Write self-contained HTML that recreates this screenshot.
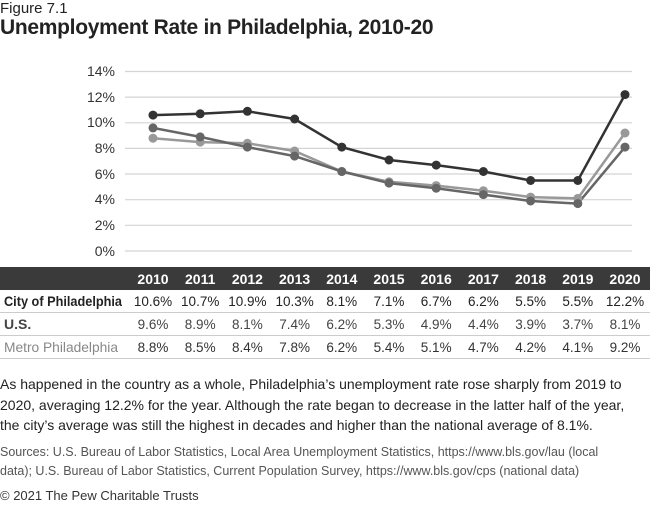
<!DOCTYPE html>
<html><head><style>
body{margin:0;width:650px;height:508px;background:#fff;font-family:"Liberation Sans",sans-serif;color:#222;position:relative;overflow:hidden}
.a{position:absolute;white-space:nowrap}
</style></head><body>
<div class="a" style="left:0;top:0;font-size:15px;color:#222">Figure 7.1</div>
<div class="a" style="left:0;top:16px;font-size:21px;font-weight:bold;color:#222;letter-spacing:-0.3px">Unemployment Rate in Philadelphia, 2010-20</div>
<svg class="a" style="left:0;top:0" width="650" height="508">
<g stroke="#d4d4d4" stroke-width="1.2">
<line x1="125" x2="632" y1="71.5" y2="71.5"/><line x1="125" x2="632" y1="97.1" y2="97.1"/><line x1="125" x2="632" y1="122.8" y2="122.8"/><line x1="125" x2="632" y1="148.4" y2="148.4"/><line x1="125" x2="632" y1="174" y2="174"/><line x1="125" x2="632" y1="199.7" y2="199.7"/><line x1="125" x2="632" y1="225.3" y2="225.3"/><line x1="125" x2="632" y1="251" y2="251"/>
</g>
<g font-size="14" fill="#333" text-anchor="end" font-family="Liberation Sans">
<text x="115" y="76">14%</text><text x="115" y="102">12%</text><text x="115" y="127">10%</text><text x="115" y="153">8%</text><text x="115" y="179">6%</text><text x="115" y="204">4%</text><text x="115" y="230">2%</text><text x="115" y="256">0%</text>
</g>
<polyline fill="none" stroke="#999" stroke-width="2.5" points="153,138.2 200.2,142.1 247.4,143.3 294.6,151 341.8,171.5 389,181.8 436.2,185.6 483.4,190.7 530.6,197.1 577.8,198.4 625,133"/>
<polyline fill="none" stroke="#666" stroke-width="2.5" points="153,127.9 200.2,136.9 247.4,147.1 294.6,156.1 341.8,171.5 389,183.1 436.2,188.2 483.4,194.6 530.6,201 577.8,203.6 625,147.1"/>
<polyline fill="none" stroke="#333" stroke-width="2.5" points="153,115.1 200.2,113.8 247.4,111.3 294.6,119 341.8,147.1 389,160 436.2,165.1 483.4,171.5 530.6,180.5 577.8,180.5 625,94.6"/>
<g fill="#999"><circle cx="153" cy="138.2" r="4.5"/><circle cx="200.2" cy="142.1" r="4.5"/><circle cx="247.4" cy="143.3" r="4.5"/><circle cx="294.6" cy="151" r="4.5"/><circle cx="341.8" cy="171.5" r="4.5"/><circle cx="389" cy="181.8" r="4.5"/><circle cx="436.2" cy="185.6" r="4.5"/><circle cx="483.4" cy="190.7" r="4.5"/><circle cx="530.6" cy="197.1" r="4.5"/><circle cx="577.8" cy="198.4" r="4.5"/><circle cx="625" cy="133" r="4.5"/></g>
<g fill="#666"><circle cx="153" cy="127.9" r="4.5"/><circle cx="200.2" cy="136.9" r="4.5"/><circle cx="247.4" cy="147.1" r="4.5"/><circle cx="294.6" cy="156.1" r="4.5"/><circle cx="341.8" cy="171.5" r="4.5"/><circle cx="389" cy="183.1" r="4.5"/><circle cx="436.2" cy="188.2" r="4.5"/><circle cx="483.4" cy="194.6" r="4.5"/><circle cx="530.6" cy="201" r="4.5"/><circle cx="577.8" cy="203.6" r="4.5"/><circle cx="625" cy="147.1" r="4.5"/></g>
<g fill="#333"><circle cx="153" cy="115.1" r="4.5"/><circle cx="200.2" cy="113.8" r="4.5"/><circle cx="247.4" cy="111.3" r="4.5"/><circle cx="294.6" cy="119" r="4.5"/><circle cx="341.8" cy="147.1" r="4.5"/><circle cx="389" cy="160" r="4.5"/><circle cx="436.2" cy="165.1" r="4.5"/><circle cx="483.4" cy="171.5" r="4.5"/><circle cx="530.6" cy="180.5" r="4.5"/><circle cx="577.8" cy="180.5" r="4.5"/><circle cx="625" cy="94.6" r="4.5"/></g>
<rect x="0" y="267" width="650" height="23" fill="#3a3a3a"/>
<g stroke="#ccc" stroke-width="1"><line x1="0" x2="650" y1="312.5" y2="312.5"/><line x1="0" x2="650" y1="335.5" y2="335.5"/><line x1="0" x2="650" y1="358.5" y2="358.5"/></g>
<g font-size="13.5" text-anchor="middle" font-family="Liberation Sans">
<g fill="#fff" font-weight="bold" font-size="14"><text x="153" y="284">2010</text><text x="200.2" y="284">2011</text><text x="247.4" y="284">2012</text><text x="294.6" y="284">2013</text><text x="341.8" y="284">2014</text><text x="389" y="284">2015</text><text x="436.2" y="284">2016</text><text x="483.4" y="284">2017</text><text x="530.6" y="284">2018</text><text x="577.8" y="284">2019</text><text x="625" y="284">2020</text></g>
<g fill="#222"><text x="153" y="306">10.6%</text><text x="200.2" y="306">10.7%</text><text x="247.4" y="306">10.9%</text><text x="294.6" y="306">10.3%</text><text x="341.8" y="306">8.1%</text><text x="389" y="306">7.1%</text><text x="436.2" y="306">6.7%</text><text x="483.4" y="306">6.2%</text><text x="530.6" y="306">5.5%</text><text x="577.8" y="306">5.5%</text><text x="625" y="306">12.2%</text></g>
<g fill="#444"><text x="153" y="329">9.6%</text><text x="200.2" y="329">8.9%</text><text x="247.4" y="329">8.1%</text><text x="294.6" y="329">7.4%</text><text x="341.8" y="329">6.2%</text><text x="389" y="329">5.3%</text><text x="436.2" y="329">4.9%</text><text x="483.4" y="329">4.4%</text><text x="530.6" y="329">3.9%</text><text x="577.8" y="329">3.7%</text><text x="625" y="329">8.1%</text></g>
<g fill="#333"><text x="153" y="352">8.8%</text><text x="200.2" y="352">8.5%</text><text x="247.4" y="352">8.4%</text><text x="294.6" y="352">7.8%</text><text x="341.8" y="352">6.2%</text><text x="389" y="352">5.4%</text><text x="436.2" y="352">5.1%</text><text x="483.4" y="352">4.7%</text><text x="530.6" y="352">4.2%</text><text x="577.8" y="352">4.1%</text><text x="625" y="352">9.2%</text></g>
</g>
<g font-size="14" font-family="Liberation Sans">
<text x="4" y="306" fill="#222" font-weight="bold" textLength="118" lengthAdjust="spacingAndGlyphs">City of Philadelphia</text>
<text x="4" y="329" fill="#444" font-weight="bold">U.S.</text>
<text x="4" y="352" fill="#888" textLength="114" lengthAdjust="spacingAndGlyphs">Metro Philadelphia</text>
</g>
</svg>
<div class="a" style="left:0;top:374px;font-size:14px;line-height:20.5px;color:#222">As happened in the country as a whole, Philadelphia’s unemployment rate rose sharply from 2019 to<br>2020, averaging 12.2% for the year. Although the rate began to decrease in the latter half of the year,<br>the city’s average was still the highest in decades and higher than the national average of 8.1%.</div>
<div class="a" style="left:0;top:443px;font-size:12.5px;line-height:19px;color:#555">Sources: U.S. Bureau of Labor Statistics, Local Area Unemployment Statistics, https://www.bls.gov/lau (local<br>data); U.S. Bureau of Labor Statistics, Current Population Survey, https://www.bls.gov/cps (national data)</div>
<div class="a" style="left:0;top:488px;font-size:13px;color:#333">© 2021 The Pew Charitable Trusts</div>
</body></html>
